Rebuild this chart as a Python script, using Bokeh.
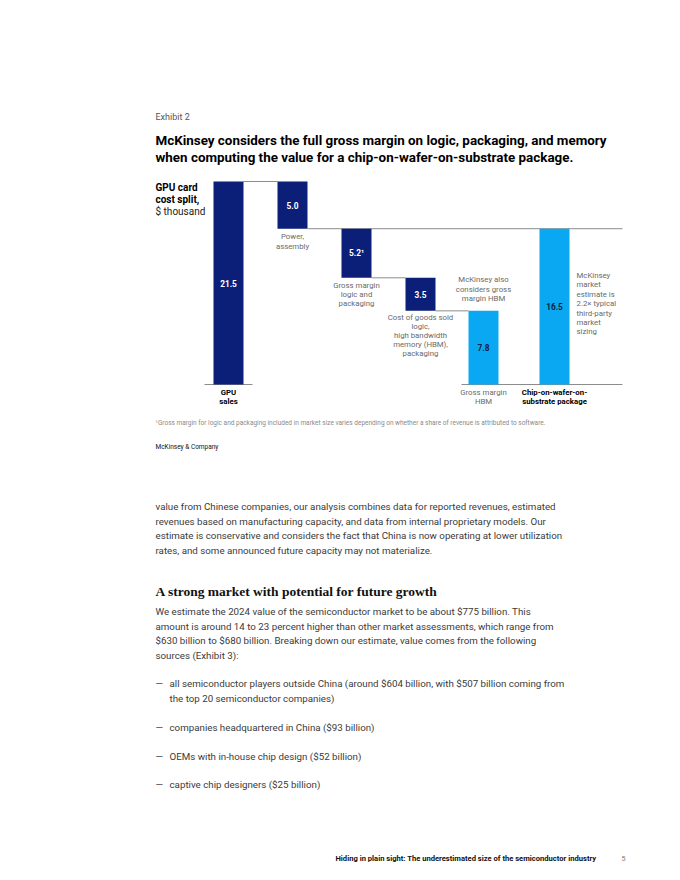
from bokeh.plotting import figure
from bokeh.models import Range1d, ColumnDataSource
from bokeh.core.properties import value
from bokeh.embed import file_html
from bokeh.resources import INLINE

# ---------------- data ----------------
steps = ["GPU sales", "Power, assembly", "Gross margin logic and packaging",
         "Cost of goods sold logic, HBM, packaging", "Gross margin HBM",
         "Chip-on-wafer-on-substrate package"]
values = [21.5, 5.0, 5.2, 3.5, 7.8, 16.5]
kinds = ["total", "decrease", "decrease", "decrease", "subtotal", "total"]
value_labels = ["21.5", "5.0", "5.2\u00b9", "3.5", "7.8", "16.5"]

step_labels = [
    ["GPU", "sales"],
    ["Power,", "assembly"],
    ["Gross margin", "logic and", "packaging"],
    ["Cost of goods sold", "logic,", "high bandwidth", "memory (HBM),", "packaging"],
    ["Gross margin", "HBM"],
    ["Chip-on-wafer-on-", "substrate package"],
]
note_hbm = ["McKinsey also", "considers gross", "margin HBM"]
note_market = ["McKinsey", "market", "estimate is", "2.2\u00d7 typical", "third-party", "market", "sizing"]

exhibit = "Exhibit 2"
title_lines = ["McKinsey considers the full gross margin on logic, packaging, and memory",
               "when computing the value for a chip-on-wafer-on-substrate package."]
unit_lines = ["GPU card", "cost split,", "$ thousand"]
footnote = ("\u00b9Gross margin for logic and packaging included in market size varies depending "
            "on whether a share of revenue is attributed to software.")
source = "McKinsey & Company"

para1 = ["value from Chinese companies, our analysis combines data for reported revenues, estimated",
         "revenues based on manufacturing capacity, and data from internal proprietary models. Our",
         "estimate is conservative and considers the fact that China is now operating at lower utilization",
         "rates, and some announced future capacity may not materialize."]
heading = "A strong market with potential for future growth"
para2 = ["We estimate the 2024 value of the semiconductor market to be about $775 billion. This",
         "amount is around 14 to 23 percent higher than other market assessments, which range from",
         "$630 billion to $680 billion. Breaking down our estimate, value comes from the following",
         "sources (Exhibit 3):"]
bullets = [["all semiconductor players outside China (around $604 billion, with $507 billion coming from",
            "the top 20 semiconductor companies)"],
           ["companies headquartered in China ($93 billion)"],
           ["OEMs with in-house chip design ($52 billion)"],
           ["captive chip designers ($25 billion)"]]
footer = "Hiding in plain sight: The underestimated size of the semiconductor industry"
page_no = "5"

# ---------------- layout ----------------
W, H = 664, 864
SANS = "Roboto"
SERIF = "Liberation Serif"
NAVY = "#0b1f78"
SKY = "#0aa8f2"
GRAY = "#6a6a6a"
BODY = "#3a3a3a"

p = figure(width=W, height=H, output_backend="svg", toolbar_location=None,
           x_range=Range1d(0, W), y_range=Range1d(H, 0),
           x_axis_type=None, y_axis_type=None, min_border=0,
           outline_line_color=None, background_fill_color="white")
p.xgrid.visible = False
p.ygrid.visible = False

# value scale for the waterfall: 0 at y=384, 21.5 at y=181
base_px, top_px, ref_val = 384.0, 181.0, 21.5
ppu = (base_px - top_px) / ref_val
p.extra_y_ranges = {"val": Range1d(start=-(H - base_px) / ppu, end=base_px / ppu)}

bar_x = [228, 292, 356, 420, 483, 554]
bar_w = 30

bottoms, tops = [], []
running = 0.0
for v, k in zip(values, kinds):
    if k == "total":
        b, t = 0.0, v
        if not bottoms:
            running = v
    elif k == "decrease":
        t = running
        b = running - v
        running = b
    else:
        b, t = 0.0, v
    bottoms.append(b)
    tops.append(t)
colors = [NAVY, NAVY, NAVY, NAVY, SKY, SKY]

src = ColumnDataSource(dict(x=bar_x, bottom=bottoms, top=tops, color=colors))

# connector lines (levels from the data)
seg = dict(x0=[], x1=[], y=[])
def conn(x0, x1, yv):
    seg["x0"].append(x0); seg["x1"].append(x1); seg["y"].append(yv)
hw = bar_w / 2
conn(bar_x[0] + hw, bar_x[1] - hw, tops[0])
conn(bar_x[1] + hw, bar_x[5] + 68, bottoms[1])
conn(bar_x[2] + hw, bar_x[3] - hw, bottoms[2])
conn(bar_x[3] + hw, bar_x[4] - hw, bottoms[3])
conn(bar_x[0] - 24, bar_x[0] + 24, 0.0)
conn(bar_x[4] - 22, bar_x[5] + 68, 0.0)
p.segment(x0="x0", x1="x1", y0="y", y1="y", source=ColumnDataSource(seg),
          y_range_name="val", line_color="#8c8c8c", line_width=1)

p.vbar(x="x", bottom="bottom", top="top", width=bar_w, fill_color="color",
       line_color=None, source=src, y_range_name="val")

def txt(x, y, s, size, color, bold=False, align="left", font=SANS, yr=None):
    kw = {}
    if yr:
        kw["y_range_name"] = yr
    p.text(x=[x], y=[y], text=[s], text_font=value(font), text_font_size=f"{size}px",
           text_color=color, text_font_style="bold" if bold else "normal",
           text_align=align, text_baseline="middle", **kw)

# bar value labels
for i, lab in enumerate(value_labels):
    mid = (bottoms[i] + tops[i]) / 2
    col = "white" if colors[i] == NAVY else "#0b1f3a"
    txt(bar_x[i], mid, lab, 8.3, col, bold=True, align="center", yr="val")

# step labels
cat_label_y = {
    0: [392, 401], 1: [236, 246], 2: [285, 294, 303], 3: [317, 326, 335, 344, 353],
    4: [392, 401], 5: [392, 401],
}
for i, lines in enumerate(step_labels):
    bold = i in (0, 5)
    for ln, yy in zip(lines, cat_label_y[i]):
        txt(bar_x[i], yy, ln, 7.8, "#000000" if bold else GRAY, bold=bold, align="center")
for j, ln in enumerate(note_hbm):
    txt(bar_x[4], 279 + 9.5 * j, ln, 7.8, GRAY, align="center")
for j, ln in enumerate(note_market):
    txt(576, 275 + 9.4 * j, ln, 7.8, GRAY)

# title block
txt(155, 116, exhibit, 9, "#555555")
txt(155, 140, title_lines[0], 13.4, "#000000", bold=True)
txt(155, 157, title_lines[1], 13.4, "#000000", bold=True)
txt(155, 187, unit_lines[0], 10, "#000000", bold=True)
txt(155, 199, unit_lines[1], 10, "#000000", bold=True)
txt(155, 211, unit_lines[2], 10, "#222222")

txt(155, 422, footnote, 6.5, "#8a8a8a")
txt(155, 446, source, 6.5, "#111111")

# body text
for j, ln in enumerate(para1):
    txt(155, 506 + 14.7 * j, ln, 9.75, BODY)
txt(155, 591, heading, 13.5, "#111111", bold=True, font=SERIF)
for j, ln in enumerate(para2):
    txt(155, 611 + 14.5 * j, ln, 9.75, BODY)
by = [[683, 698], [727], [756], [784]]
for b, ys in zip(bullets, by):
    txt(155, ys[0], "\u2014", 9.75, BODY)
    for ln, yy in zip(b, ys):
        txt(169, yy, ln, 9.75, BODY)

txt(335, 858, footer, 7.6, "#111111", bold=True)
txt(621, 858, page_no, 7, "#777777")
p.scatter(x=[341], y=[874], size=2, color="#bbbbbb")

open("out.html", "w").write(file_html(p, INLINE))
